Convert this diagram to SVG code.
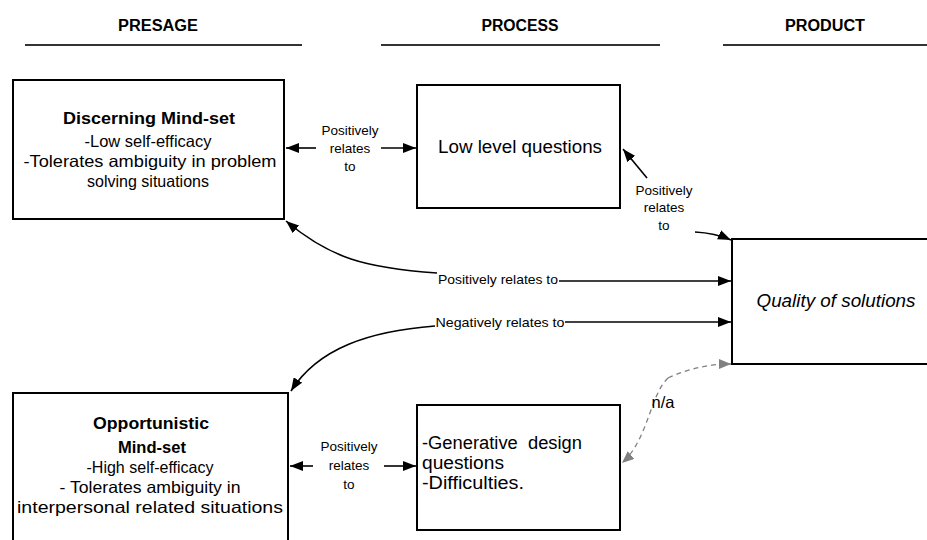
<svg xmlns="http://www.w3.org/2000/svg" width="927" height="540" viewBox="0 0 927 540">
  <style>
    .box { fill: #ffffff; stroke: #000000; stroke-width: 2; }
    .head { font-family: "Liberation Sans", Arial, sans-serif; font-weight: bold; font-size: 16px; fill: #000; text-anchor: middle; }
    .rule { stroke: #333333; stroke-width: 2; }
    .t { font-family: "Liberation Sans", Arial, sans-serif; font-size: 16.5px; fill: #000; text-anchor: middle; }
    .tb { font-family: "Liberation Sans", Arial, sans-serif; font-size: 17px; font-weight: bold; fill: #000; text-anchor: middle; }
    .lbl { font-family: "Liberation Sans", Arial, sans-serif; font-size: 13.5px; fill: #000; text-anchor: middle; }
    .con { fill: none; stroke: #000; stroke-width: 1.6; }
    .dash { fill: none; stroke: #808080; stroke-width: 1.3; stroke-dasharray: 5 4; }
  </style>
  <defs>
    <marker id="ah" viewBox="0 0 13 10" refX="13" refY="5" markerWidth="13" markerHeight="10" markerUnits="userSpaceOnUse" orient="auto">
      <path d="M0,0 L13,5 L0,10 z" fill="#000"/>
    </marker>
    <marker id="ahg" viewBox="0 0 12 10" refX="12" refY="5" markerWidth="12" markerHeight="10" markerUnits="userSpaceOnUse" orient="auto">
      <path d="M0,0 L12,5 L0,10 z" fill="#808080"/>
    </marker>
  </defs>

  <!-- column headings -->
  <g id="headings">
    <text class="head" x="158" y="31" textLength="80" lengthAdjust="spacingAndGlyphs">PRESAGE</text>
    <text class="head" x="520" y="31" textLength="77" lengthAdjust="spacingAndGlyphs">PROCESS</text>
    <text class="head" x="825" y="31" textLength="80" lengthAdjust="spacingAndGlyphs">PRODUCT</text>
    <line class="rule" x1="25" y1="45" x2="302" y2="45"/>
    <line class="rule" x1="381" y1="45" x2="660" y2="45"/>
    <line class="rule" x1="723" y1="45" x2="927" y2="45"/>
  </g>

  <!-- connectors -->
  <g id="connectors">
    <!-- discerning <-> low level questions -->
    <line class="con" x1="316" y1="148" x2="286" y2="148" marker-end="url(#ah)"/>
    <line class="con" x1="381" y1="148" x2="416" y2="148" marker-end="url(#ah)"/>
    <text class="lbl" x="350" y="135">Positively</text>
    <text class="lbl" x="350" y="153">relates</text>
    <text class="lbl" x="350" y="171">to</text>

    <!-- low level questions <-> quality -->
    <path class="con" d="M647,178 L623,149" marker-end="url(#ah)"/>
    <path class="con" d="M695,232 Q715,233 731,240" marker-end="url(#ah)"/>
    <text class="lbl" x="664" y="195">Positively</text>
    <text class="lbl" x="664" y="212">relates</text>
    <text class="lbl" x="664" y="230">to</text>

    <!-- discerning <-> quality -->
    <path class="con" d="M437,273 C365,268 330,258 286,221" marker-end="url(#ah)"/>
    <line class="con" x1="559" y1="281" x2="731" y2="281" marker-end="url(#ah)"/>
    <text class="lbl" x="498" y="284" textLength="120" lengthAdjust="spacingAndGlyphs">Positively relates to</text>

    <!-- opportunistic <-> quality -->
    <path class="con" d="M435,326 C370,331 318,348 291,391" marker-end="url(#ah)"/>
    <line class="con" x1="565" y1="322" x2="731" y2="322" marker-end="url(#ah)"/>
    <text class="lbl" x="500" y="327" textLength="129" lengthAdjust="spacingAndGlyphs">Negatively relates to</text>

    <!-- opportunistic <-> generative questions -->
    <line class="con" x1="313" y1="466" x2="290" y2="466" marker-end="url(#ah)"/>
    <line class="con" x1="384" y1="466" x2="416" y2="466" marker-end="url(#ah)"/>
    <text class="lbl" x="349" y="451">Positively</text>
    <text class="lbl" x="349" y="470">relates</text>
    <text class="lbl" x="349" y="489">to</text>

    <!-- generative questions <-> quality (not applicable) -->
    <path class="dash" d="M668,378 C690,368 710,364 731,364" marker-end="url(#ahg)"/>
    <path class="dash" d="M668,378 C650,395 648,440 622,463" marker-end="url(#ahg)"/>
    <text class="lbl" x="663" y="408" style="font-size:16.5px">n/a</text>
  </g>

  <!-- presage nodes -->
  <g id="discerning">
    <rect class="box" x="13" y="80" width="271" height="139"/>
    <text class="tb" x="149" y="124" textLength="172" lengthAdjust="spacingAndGlyphs">Discerning Mind-set</text>
    <text class="t" x="148" y="147" textLength="127" lengthAdjust="spacingAndGlyphs">-Low self-efficacy</text>
    <text class="t" x="150" y="167" textLength="253" lengthAdjust="spacingAndGlyphs">-Tolerates ambiguity in problem</text>
    <text class="t" x="148" y="187" textLength="122" lengthAdjust="spacingAndGlyphs">solving situations</text>
  </g>

  <g id="opportunistic">
    <rect class="box" x="13" y="393" width="275" height="160"/>
    <text class="tb" x="151" y="429" textLength="116" lengthAdjust="spacingAndGlyphs">Opportunistic</text>
    <text class="tb" x="152" y="453" textLength="68" lengthAdjust="spacingAndGlyphs">Mind-set</text>
    <text class="t" x="150" y="473" textLength="127" lengthAdjust="spacingAndGlyphs">-High self-efficacy</text>
    <text class="t" x="150" y="493" textLength="181" lengthAdjust="spacingAndGlyphs">- Tolerates ambiguity in</text>
    <text class="t" x="150" y="513" textLength="266" lengthAdjust="spacingAndGlyphs">interpersonal related situations</text>
  </g>

  <!-- process nodes -->
  <g id="low-level">
    <rect class="box" x="417" y="85" width="203" height="123"/>
    <text class="t" x="520" y="153" style="font-size:18px" textLength="164" lengthAdjust="spacingAndGlyphs">Low level questions</text>
  </g>

  <g id="generative">
    <rect class="box" x="417" y="405" width="203" height="125"/>
    <text class="t" x="422" y="449" style="font-size:18px;text-anchor:start" xml:space="preserve" textLength="160" lengthAdjust="spacingAndGlyphs">-Generative  design</text>
    <text class="t" x="422" y="469" style="font-size:18px;text-anchor:start" textLength="82" lengthAdjust="spacingAndGlyphs">questions</text>
    <text class="t" x="422" y="489" style="font-size:18px;text-anchor:start" textLength="102" lengthAdjust="spacingAndGlyphs">-Difficulties.</text>
  </g>

  <!-- product node -->
  <g id="quality">
    <rect class="box" x="732" y="239" width="205" height="125"/>
    <text class="t" x="836" y="307" style="font-size:17.5px;font-style:italic" textLength="159" lengthAdjust="spacingAndGlyphs">Quality of solutions</text>
  </g>
</svg>
